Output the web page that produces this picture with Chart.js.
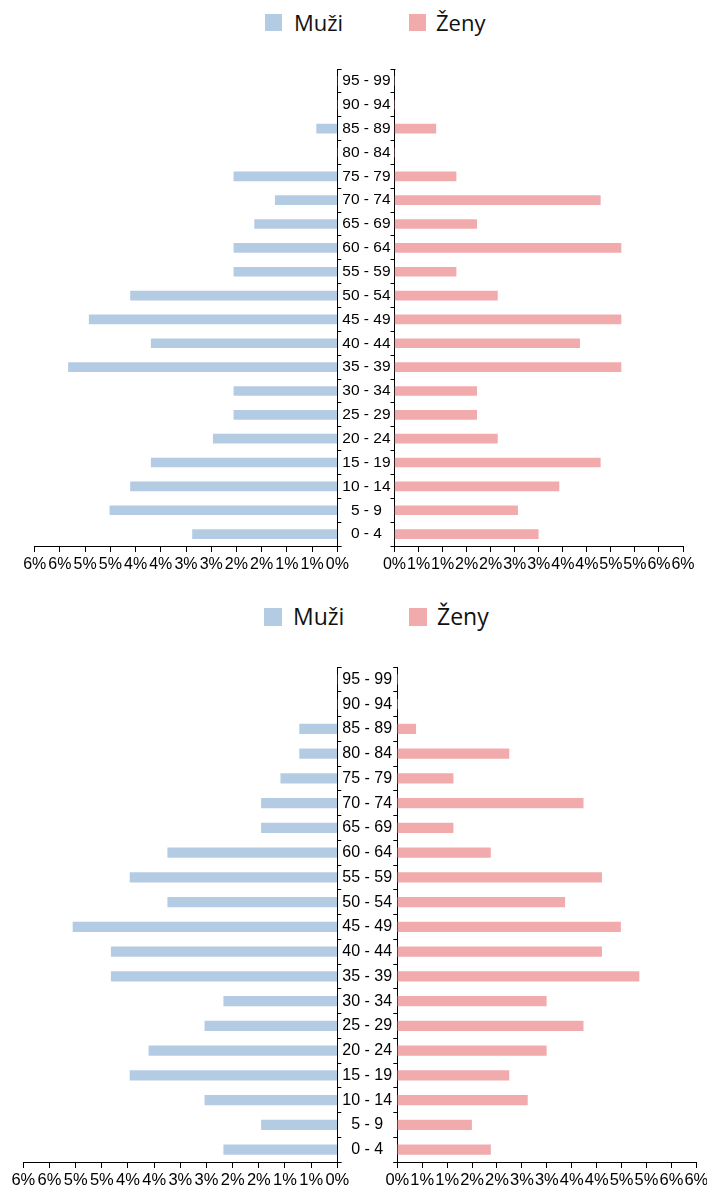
<!doctype html>
<html lang="cs">
<head>
  <meta charset="utf-8">
  <title>Věková pyramida</title>
  <style>
    * {
      margin: 0;
      padding: 0;
    }

    body {
      position: relative;
      width: 707px;
      height: 1189px;
      overflow: hidden;
      background: #fff;
    }

    canvas {
      position: absolute;
    }

    .box {
      position: absolute;
      width: 17px;
      height: 17px;
    }

    .lbl {
      position: absolute;
      font-family: "Open Sans", sans-serif;
      color: #111;
      line-height: 1;
      white-space: nowrap;
    }
  </style>
</head>

<body>
  <!-- legends -->
  <div class="box" style="left:265px;top:14px;background:#b4cce3"></div>
  <div class="lbl" style="left:294px;top:11px;font-size:22px">Muži</div>
  <div class="box" style="left:409px;top:14px;background:#f1abad"></div>
  <div class="lbl" style="left:436px;top:11px;font-size:22px">Ženy</div>

  <div class="box" style="left:264px;top:608px;width:18px;height:18px;background:#b4cce3"></div>
  <div class="lbl" style="left:293px;top:605px;font-size:23px">Muži</div>
  <div class="box" style="left:409px;top:608px;width:18px;height:18px;background:#f1abad"></div>
  <div class="lbl" style="left:437px;top:605px;font-size:23px">Ženy</div>

  <script src="https://cdn.jsdelivr.net/npm/chart.js"></script>
  <script>
    // data
    const ageGroups = ['0 - 4', '5 - 9', '10 - 14', '15 - 19', '20 - 24', '25 - 29', '30 - 34', '35 - 39', '40 - 44', '45 - 49',
      '50 - 54', '55 - 59', '60 - 64', '65 - 69', '70 - 74', '75 - 79', '80 - 84', '85 - 89', '90 - 94', '95 - 99'];
    const tickValues = [0, 0.5, 1, 1.5, 2, 2.5, 3, 3.5, 4, 4.5, 5, 5.5, 6];

    const topMuzi = [2.87, 4.51, 4.10, 3.69, 2.46, 2.05, 2.05, 5.33, 3.69, 4.92, 4.10, 2.05, 2.05, 1.64, 1.23, 2.05, 0, 0.41, 0, 0];
    const topZeny = [2.99, 2.56, 3.42, 4.28, 2.14, 1.71, 1.71, 4.71, 3.85, 4.71, 2.14, 1.28, 4.71, 1.71, 4.28, 1.28, 0, 0.86, 0, 0];

    const bottomMuzi = [2.17, 1.45, 2.53, 3.96, 3.60, 2.53, 2.17, 4.32, 4.32, 5.05, 3.24, 3.96, 3.24, 1.45, 1.45, 1.08, 0.72, 0.72, 0, 0];
    const bottomZeny = [1.87, 1.49, 2.61, 2.24, 2.99, 3.73, 2.99, 4.85, 4.10, 4.48, 3.36, 4.10, 1.87, 1.12, 3.73, 1.12, 2.24, 0.37, 0, 0];

    const blue = '#b4cce3';
    const pink = '#f1abad';

    // small end caps on the vertical axes
    const axisCaps = {
      id: 'axisCaps',
      afterDraw(chart) {
        const a = chart.chartArea;
        const ctx = chart.ctx;
        const right = chart.scales.y.position === 'right';
        const x0 = Math.round(right ? a.right : a.left) + 0.5;
        const dir = right ? 1 : -1;
        ctx.save();
        ctx.strokeStyle = '#000';
        ctx.lineWidth = 1;
        ctx.beginPath();
        [a.top, a.bottom].forEach(function (yy) {
          const p = Math.round(yy) + 0.5;
          ctx.moveTo(x0, p);
          ctx.lineTo(x0 + dir * 4, p);
        });
        ctx.stroke();
        ctx.restore();
      }
    };

    function addCanvas(left, top, w, h) {
      const c = document.createElement('canvas');
      c.width = w;
      c.height = h;
      c.style.left = left + 'px';
      c.style.top = top + 'px';
      c.style.width = w + 'px';
      c.style.height = h + 'px';
      document.body.appendChild(c);
      return c;
    }

    function side(canvas, values, color, o, isLeft, yWidth, pad) {
      return new Chart(canvas, {
        type: 'bar',
        data: {
          labels: ageGroups,
          datasets: [{
            data: values,
            backgroundColor: color,
            borderWidth: 0,
            barThickness: o.bar
          }]
        },
        options: {
          indexAxis: 'y',
          responsive: false,
          animation: false,
          layout: { padding: pad },
          plugins: { legend: { display: false }, tooltip: { enabled: false } },
          scales: {
            x: {
              reverse: isLeft,
              min: 0,
              max: 6,
              afterBuildTicks: function (s) { s.ticks = tickValues.map(function (v) { return { value: v }; }); },
              afterFit: function (s) { s.height = 30; s.paddingLeft = 0; s.paddingRight = 0; },
              ticks: {
                autoSkip: false,
                maxRotation: 0,
                padding: 3,
                color: '#000',
                font: { family: '"Liberation Sans", Arial, sans-serif', size: o.fontX },
                callback: function (v) { return Math.round(v) + '%'; }
              },
              grid: { drawOnChartArea: false, tickLength: 6, color: '#000' },
              border: { display: true, color: '#000' }
            },
            y: {
              position: isLeft ? 'right' : 'left',
              reverse: true,
              afterFit: function (s) { s.width = yWidth; s.paddingTop = 0; s.paddingBottom = 0; },
              ticks: {
                display: isLeft,
                crossAlign: 'center',
                padding: 1,
                color: '#000',
                font: { family: '"Liberation Sans", Arial, sans-serif', size: o.fontY }
              },
              grid: { drawOnChartArea: false, tickLength: 4, color: '#000' },
              border: { display: true, color: '#000' }
            }
          }
        },
        plugins: [axisCaps]
      });
    }

    function pyramid(o) {
      const h = o.padTop + (o.areaBottom - o.areaTop) + 30;
      const top = o.areaTop - o.padTop;

      // left half: men
      const lw = o.leftCanvasW;
      const lc = addCanvas(0, top, lw, h);
      side(lc, o.men, blue, o, true, lw - o.leftAxisX,
        { left: o.leftAreaLeft, right: 0, top: o.padTop, bottom: 0 });

      // right half: women (canvas starts further left so the "0%" label is not clipped)
      const rl = o.rightCanvasL;
      const rw = 725 - rl;
      const rc = addCanvas(rl, top, rw, h);
      side(rc, o.women, pink, o, false, o.rightAxisX - rl,
        { left: 0, right: rl + rw - o.rightAreaRight, top: o.padTop, bottom: 0 });
    }

    pyramid({
      men: topMuzi, women: topZeny,
      areaTop: 69, areaBottom: 546, padTop: 9,
      leftAreaLeft: 34.7, leftAxisX: 337.3, leftCanvasW: 394,
      rightCanvasL: 370, rightAxisX: 394.5, rightAreaRight: 683,
      bar: 9, fontX: 16, fontY: 15.5
    });

    pyramid({
      men: bottomMuzi, women: bottomZeny,
      areaTop: 667, areaBottom: 1162, padTop: 10,
      leftAreaLeft: 23.3, leftAxisX: 337.3, leftCanvasW: 397,
      rightCanvasL: 373, rightAxisX: 397.3, rightAreaRight: 696.3,
      bar: 9.5, fontX: 16.5, fontY: 16
    });
  </script>
</body>

</html>
